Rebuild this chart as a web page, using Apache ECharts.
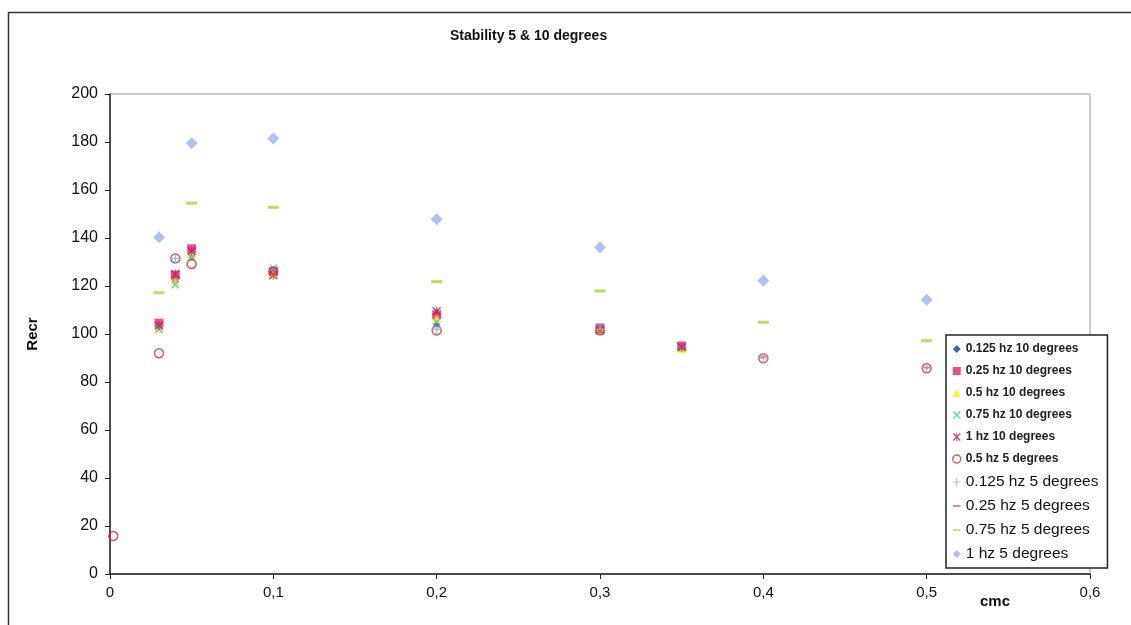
<!DOCTYPE html>
<html><head><meta charset="utf-8">
<script src="https://cdn.jsdelivr.net/npm/echarts@6/dist/echarts.min.js"></script>
<style>html,body{margin:0;padding:0;background:#fff}#c{width:1131px;height:625px}</style>
</head><body><div id="c"></div>
<script>
// ---- data ----
const xTicks = [0, 0.1, 0.2, 0.3, 0.4, 0.5, 0.6];
const yTicks = [0, 20, 40, 60, 80, 100, 120, 140, 160, 180, 200];
const cmc10 = [0.03, 0.04, 0.05, 0.1, 0.2, 0.3, 0.35];
const hz0125_10 = [103, 122, 132, 126, 104, 102, 94];
const hz025_10  = [104.5, 124.5, 135.5, 126, 108, 102.5, 95];
const hz05_10   = [102.5, 122, 133, 125, 106.5, 102, 94];
const hz075_10  = [102, 120.5, 132, 127.5, 105, 103, 94.5];
const hz1_10    = [103.5, 125, 134.5, 124.5, 109.5, 101.5, 94.5];
const cmc05_5 = [0.002, 0.03, 0.04, 0.05, 0.1, 0.2, 0.3, 0.4, 0.5];
const hz05_5  = [15.8, 92, 131.5, 129.2, 126, 101.5, 101.5, 89.9, 85.7];
const cmc0125_5 = [0.04, 0.2, 0.3, 0.4, 0.5];
const hz0125_5  = [131.5, 102, 102, 90, 86];
const cmc025_5 = [0.1, 0.3, 0.4, 0.5];
const hz025_5  = [124, 102, 90.5, 86];
const cmcHigh = [0.03, 0.05, 0.1, 0.2, 0.3, 0.4, 0.5];
const hz075_5 = [117.2, 154.5, 152.8, 121.8, 117.9, 104.9, 97.2];
const hz1_5   = [140.3, 179.5, 181.5, 147.8, 136, 122.2, 114.3];

const names = ['0.125 hz 10 degrees','0.25 hz 10 degrees','0.5 hz 10 degrees','0.75 hz 10 degrees','1 hz 10 degrees',
  '0.5 hz 5 degrees','0.125 hz 5 degrees','0.25 hz 5 degrees','0.75 hz 5 degrees','1 hz 5 degrees'];

const pair = (xs, ys) => xs.map((x, i) => [x, ys[i]]);
const X = 'path://M0,1.2 L1.2,0 L5,3.8 L8.8,0 L10,1.2 L6.2,5 L10,8.8 L8.8,10 L5,6.2 L1.2,10 L0,8.8 L3.8,5 Z';
const STAR = 'path://M0,1.2 L1.2,0 L4.4,3.2 L4.4,0 L5.6,0 L5.6,3.2 L8.8,0 L10,1.2 L6.2,5 L10,8.8 L8.8,10 L5.6,6.8 L5.6,10 L4.4,10 L4.4,6.8 L1.2,10 L0,8.8 L3.8,5 Z';
const PLUS = 'path://M4.3,0 L5.7,0 L5.7,4.3 L10,4.3 L10,5.7 L5.7,5.7 L5.7,10 L4.3,10 L4.3,5.7 L0,5.7 L0,4.3 L4.3,4.3 Z';

function sc(name, data, symbol, size, color, extra) {
  return Object.assign({
    name, type: 'scatter', data, symbol, symbolSize: size,
    itemStyle: { color }
  }, extra || {});
}

const series = [
  sc(names[0], pair(cmc10, hz0125_10), 'diamond', 7, '#1a3d9c'),
  sc(names[1], pair(cmc10, hz025_10), 'rect', 9, '#ee1f6a'),
  sc(names[2], pair(cmc10, hz05_10), 'triangle', 9, '#fff000'),
  sc(names[3], pair(cmc10, hz075_10), X, 8, '#33c6d9'),
  sc(names[4], pair(cmc10, hz1_10), STAR, 9, '#a8245e'),
  sc(names[5], pair(cmc05_5, hz05_5), 'circle', 9, '#cc3333',
     { itemStyle: { color: 'rgba(255,255,255,0)', borderColor: '#cc3333', borderWidth: 1.5 } }),
  sc(names[6], pair(cmc0125_5, hz0125_5), PLUS, 10, '#7fb0e0'),
  sc(names[7], pair(cmc025_5, hz025_5), 'rect', [6, 2], '#f07070'),
  sc(names[8], pair(cmcHigh, hz075_5), 'rect', [11, 3], '#a6d63a'),
  sc(names[9], pair(cmcHigh, hz1_5), 'diamond', 12, '#9eb2e8')
];

const smallText = { fontSize: 12, fontWeight: 'bold', fontFamily: 'Liberation Sans, Arial', color: '#222', lineHeight: 14 };
const bigText = { fontSize: 15.5, fontWeight: 'normal', fontFamily: 'Liberation Sans, Arial', color: '#111', lineHeight: 12 };
const icons = ['diamond', 'rect', 'triangle', X, STAR, 'circle', PLUS,
  'path://M0,4 L10,4 L10,6.5 L0,6.5 Z', 'path://M0,4 L10,4 L10,6 L0,6 Z', 'diamond'];

const chart = echarts.init(document.getElementById('c'), null, { renderer: 'canvas' });
chart.setOption({
  animation: false,
  backgroundColor: '#fff',
  title: {
    text: 'Stability 5 & 10 degrees',
    left: 445, top: 24,
    textStyle: { fontSize: 14, fontWeight: 'bold', fontFamily: 'Liberation Sans, Arial', color: '#111' }
  },
  graphic: [{
    type: 'rect', shape: { x: 8.5, y: 12.5, width: 1200, height: 700 },
    style: { fill: 'none', stroke: '#333', lineWidth: 1.5 }, silent: true, z: 0
  }],
  grid: { left: 110, top: 94, right: 41, bottom: 51, show: true, borderColor: '#999', borderWidth: 1,
    containLabel: false, outerBoundsMode: 'none' },
  xAxis: {
    type: 'value', min: 0, max: 0.6, interval: 0.1,
    name: 'cmc', nameLocation: 'end', nameGap: 0,
    nameTextStyle: { fontSize: 15, fontWeight: 'bold', fontFamily: 'Liberation Sans, Arial', color: '#111',
      padding: [20, 80, 0, 0], align: 'right', verticalAlign: 'top' },
    axisLine: { lineStyle: { color: '#222', width: 1.5 } },
    axisTick: { show: true, length: 5, lineStyle: { color: '#222' } },
    splitLine: { show: false },
    axisLabel: { fontSize: 15, color: '#111', fontFamily: 'Liberation Sans, Arial', margin: 11,
      formatter: v => String(xTicks.find(t => Math.abs(t - v) < 1e-9) ?? v).replace('.', ',') }
  },
  yAxis: {
    type: 'value', min: 0, max: 200, interval: 20,
    name: 'Recr', nameLocation: 'middle', nameGap: 70, nameRotate: 90,
    nameTextStyle: { fontSize: 15, fontWeight: 'bold', fontFamily: 'Liberation Sans, Arial', color: '#111' },
    axisLine: { show: true, lineStyle: { color: '#222', width: 1.5 } },
    axisTick: { show: true, length: 5, lineStyle: { color: '#222' } },
    splitLine: { show: false },
    axisLabel: { fontSize: 16, color: '#111', fontFamily: 'Liberation Sans, Arial', margin: 12,
      formatter: v => String(yTicks.find(t => t === v) ?? v) }
  },
  legend: {
    orient: 'vertical', left: 946, top: 335,
    padding: [7, 9, 6, 6], itemGap: 8, itemWidth: 8, itemHeight: 8,
    backgroundColor: '#fff', borderColor: '#222', borderWidth: 1.5, borderRadius: 0,
    textStyle: smallText,
    data: names.map((n, i) => {
      const d = { name: n, icon: icons[i], textStyle: i < 6 ? smallText : bigText };
      if (i === 5) d.itemStyle = { color: '#fff', borderColor: '#cc3333', borderWidth: 1.5 };
      return d;
    })
  },
  series
});
</script></body></html>
